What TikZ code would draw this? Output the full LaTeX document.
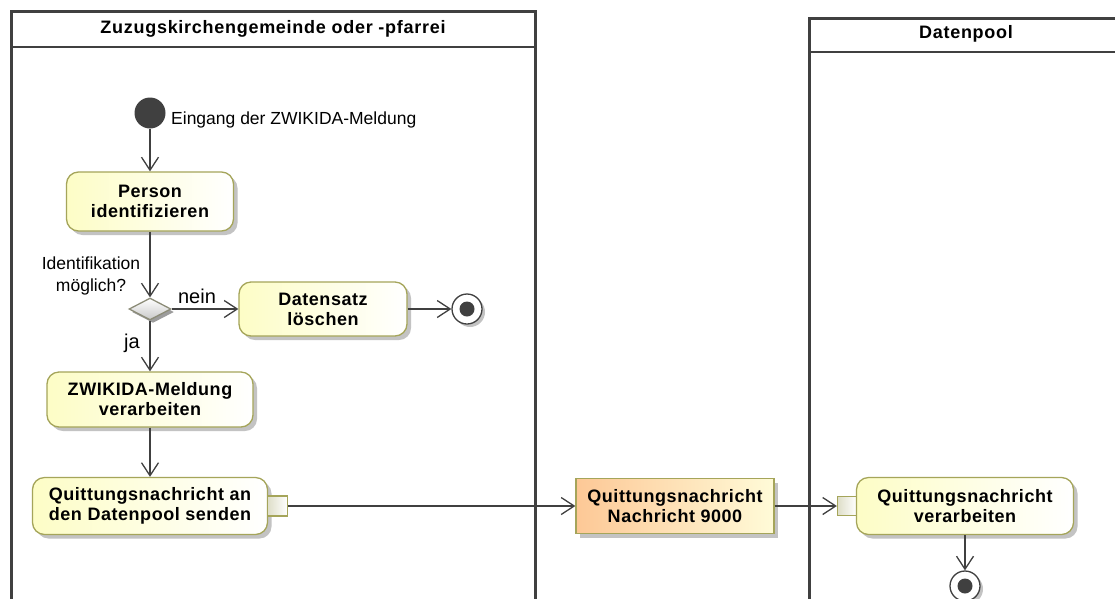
\documentclass[tikz,border=0pt]{standalone}
\usepackage{fontspec}
\setmainfont{Liberation Sans}
\newfontfamily\labfont[LetterSpace=3]{Liberation Sans}
\newfontfamily\titfont[LetterSpace=4]{Liberation Sans}
\usetikzlibrary{arrows.meta,shapes.geometric,shadows}
\definecolor{linec}{RGB}{64,64,64}
\definecolor{actborder}{RGB}{165,165,90}
\definecolor{actfill}{RGB}{253,253,198}
\definecolor{objfill}{RGB}{253,200,150}
\definecolor{objright}{RGB}{255,251,216}
\definecolor{shadowc}{RGB}{195,195,195}
\definecolor{pinfill}{RGB}{222,222,200}
\definecolor{diafill}{RGB}{200,200,200}
\definecolor{diaborder}{RGB}{140,140,120}
\tikzset{
  pool/.style={draw=linec,line width=3pt},
  poolhead/.style={draw=linec,line width=2.5pt},
  pooltitle/.style={font=\titfont\bfseries\fontsize{18}{20}\selectfont,inner sep=0pt},
  shad/.style={drop shadow={shadow xshift=4pt,shadow yshift=-4pt,fill=shadowc,opacity=1}},
  act/.style={rectangle,rounded corners=12pt,draw=actborder,line width=1.3pt,
    left color=actfill,right color=white,shad,align=center,inner sep=0pt,
    font=\labfont\bfseries\fontsize{18}{20}\selectfont},
  obj/.style={rectangle,draw=actborder,line width=1.3pt,
    left color=objfill,right color=objright,shad,align=center,inner sep=0pt,
    font=\labfont\bfseries\fontsize{18}{20}\selectfont},
  pinbox/.style={rectangle,draw=actborder,line width=1.3pt,left color=pinfill,right color=white,
    minimum size=19pt,inner sep=0pt},
  initnode/.style={circle,fill=linec,minimum size=31pt,inner sep=0pt},
  finalnode/.style={circle,draw=linec,line width=1.3pt,fill=white,minimum size=30pt,inner sep=0pt,
    drop shadow={shadow xshift=3pt,shadow yshift=-3pt,fill=shadowc,opacity=1},
    path picture={\fill[linec] (path picture bounding box.center) circle (7.5pt);}},
  decision/.style={diamond,draw=diaborder,line width=1.3pt,top color=white,bottom color=diafill,
    minimum width=42pt,minimum height=22pt,inner sep=0pt,aspect=2,
    drop shadow={shadow xshift=3pt,shadow yshift=-3pt,fill=shadowc!80!black,opacity=1}},
  lab/.style={font=\fontsize{17.5}{22}\selectfont,inner sep=0pt,text=black},
  guard/.style={font=\fontsize{20}{22}\selectfont,inner sep=0pt,text=black},
  flow/.style={draw=linec,line width=1.3pt,-{Straight Barb[length=13pt,width=17pt,line width=1.3pt]}},
}
\begin{document}
\begin{tikzpicture}[x=1pt,y=-1pt]
\useasboundingbox (0,0) rectangle (1115,598);
\clip (0,0) rectangle (1115,598);
\fill[white] (0,0) rectangle (1115,598);
% swimlanes
\draw[pool] (11,720) -- (11,11) -- (535,11) -- (535,720);
\draw[poolhead] (11,47) -- (535,47);
\node[pooltitle] (t1) at (273,28.5) {Zuzugskirchengemeinde oder -pfarrei};
\draw[pool] (809,720) -- (809,18) -- (1140,18);
\draw[poolhead] (809,52) -- (1140,52);
\node[pooltitle] (t2) at (966,34) {Datenpool};
% nodes
\node[initnode] (init) at (150,113) {};
\node[lab,anchor=base west] (initlab) at (171,124) {Eingang der ZWIKIDA-Meldung};
\node[act,minimum width=167pt,minimum height=59pt] (person) at (150,201.5) {Person\\identifizieren};
\node[decision] (dia) at (150,309) {};
\node[act,minimum width=168pt,minimum height=54pt] (del) at (323,309) {Datensatz\\löschen};
\node[finalnode] (fin1) at (467,309) {};
\node[act,minimum width=206pt,minimum height=55pt] (zw) at (150,399.5) {ZWIKIDA-Meldung\\verarbeiten};
\node[act,minimum width=235pt,minimum height=57pt] (qs) at (150,506) {Quittungsnachricht an\\den Datenpool senden};
\node[pinbox,minimum size=20pt] (op) at (277.5,506) {};
\node[obj,minimum width=198pt,minimum height=55pt] (obj) at (675,506) {Quittungsnachricht\\Nachricht 9000};
\node[pinbox] (ip) at (847,506) {};
\node[act,minimum width=217pt,minimum height=57pt] (qv) at (965,506) {Quittungsnachricht\\verarbeiten};
\node[finalnode] (fin2) at (965,586) {};
% labels
\node[lab,align=center] (cond) at (91,276) {Identifikation\\möglich?};
\node[guard,anchor=base] (nein) at (197,303) {nein};
\node[guard,anchor=base] (ja) at (132,348) {ja};
% connectors
\draw[flow] (init) -- (person);
\draw[flow] (person) -- (dia);
\draw[flow] (dia) -- (del);
\draw[flow] (del) -- (fin1);
\draw[flow] (dia) -- (zw);
\draw[flow] (zw) -- (qs);
\draw[flow] (op) -- (obj);
\draw[flow] (obj) -- (ip);
\draw[flow] (qv) -- (fin2);
\end{tikzpicture}
\end{document}
